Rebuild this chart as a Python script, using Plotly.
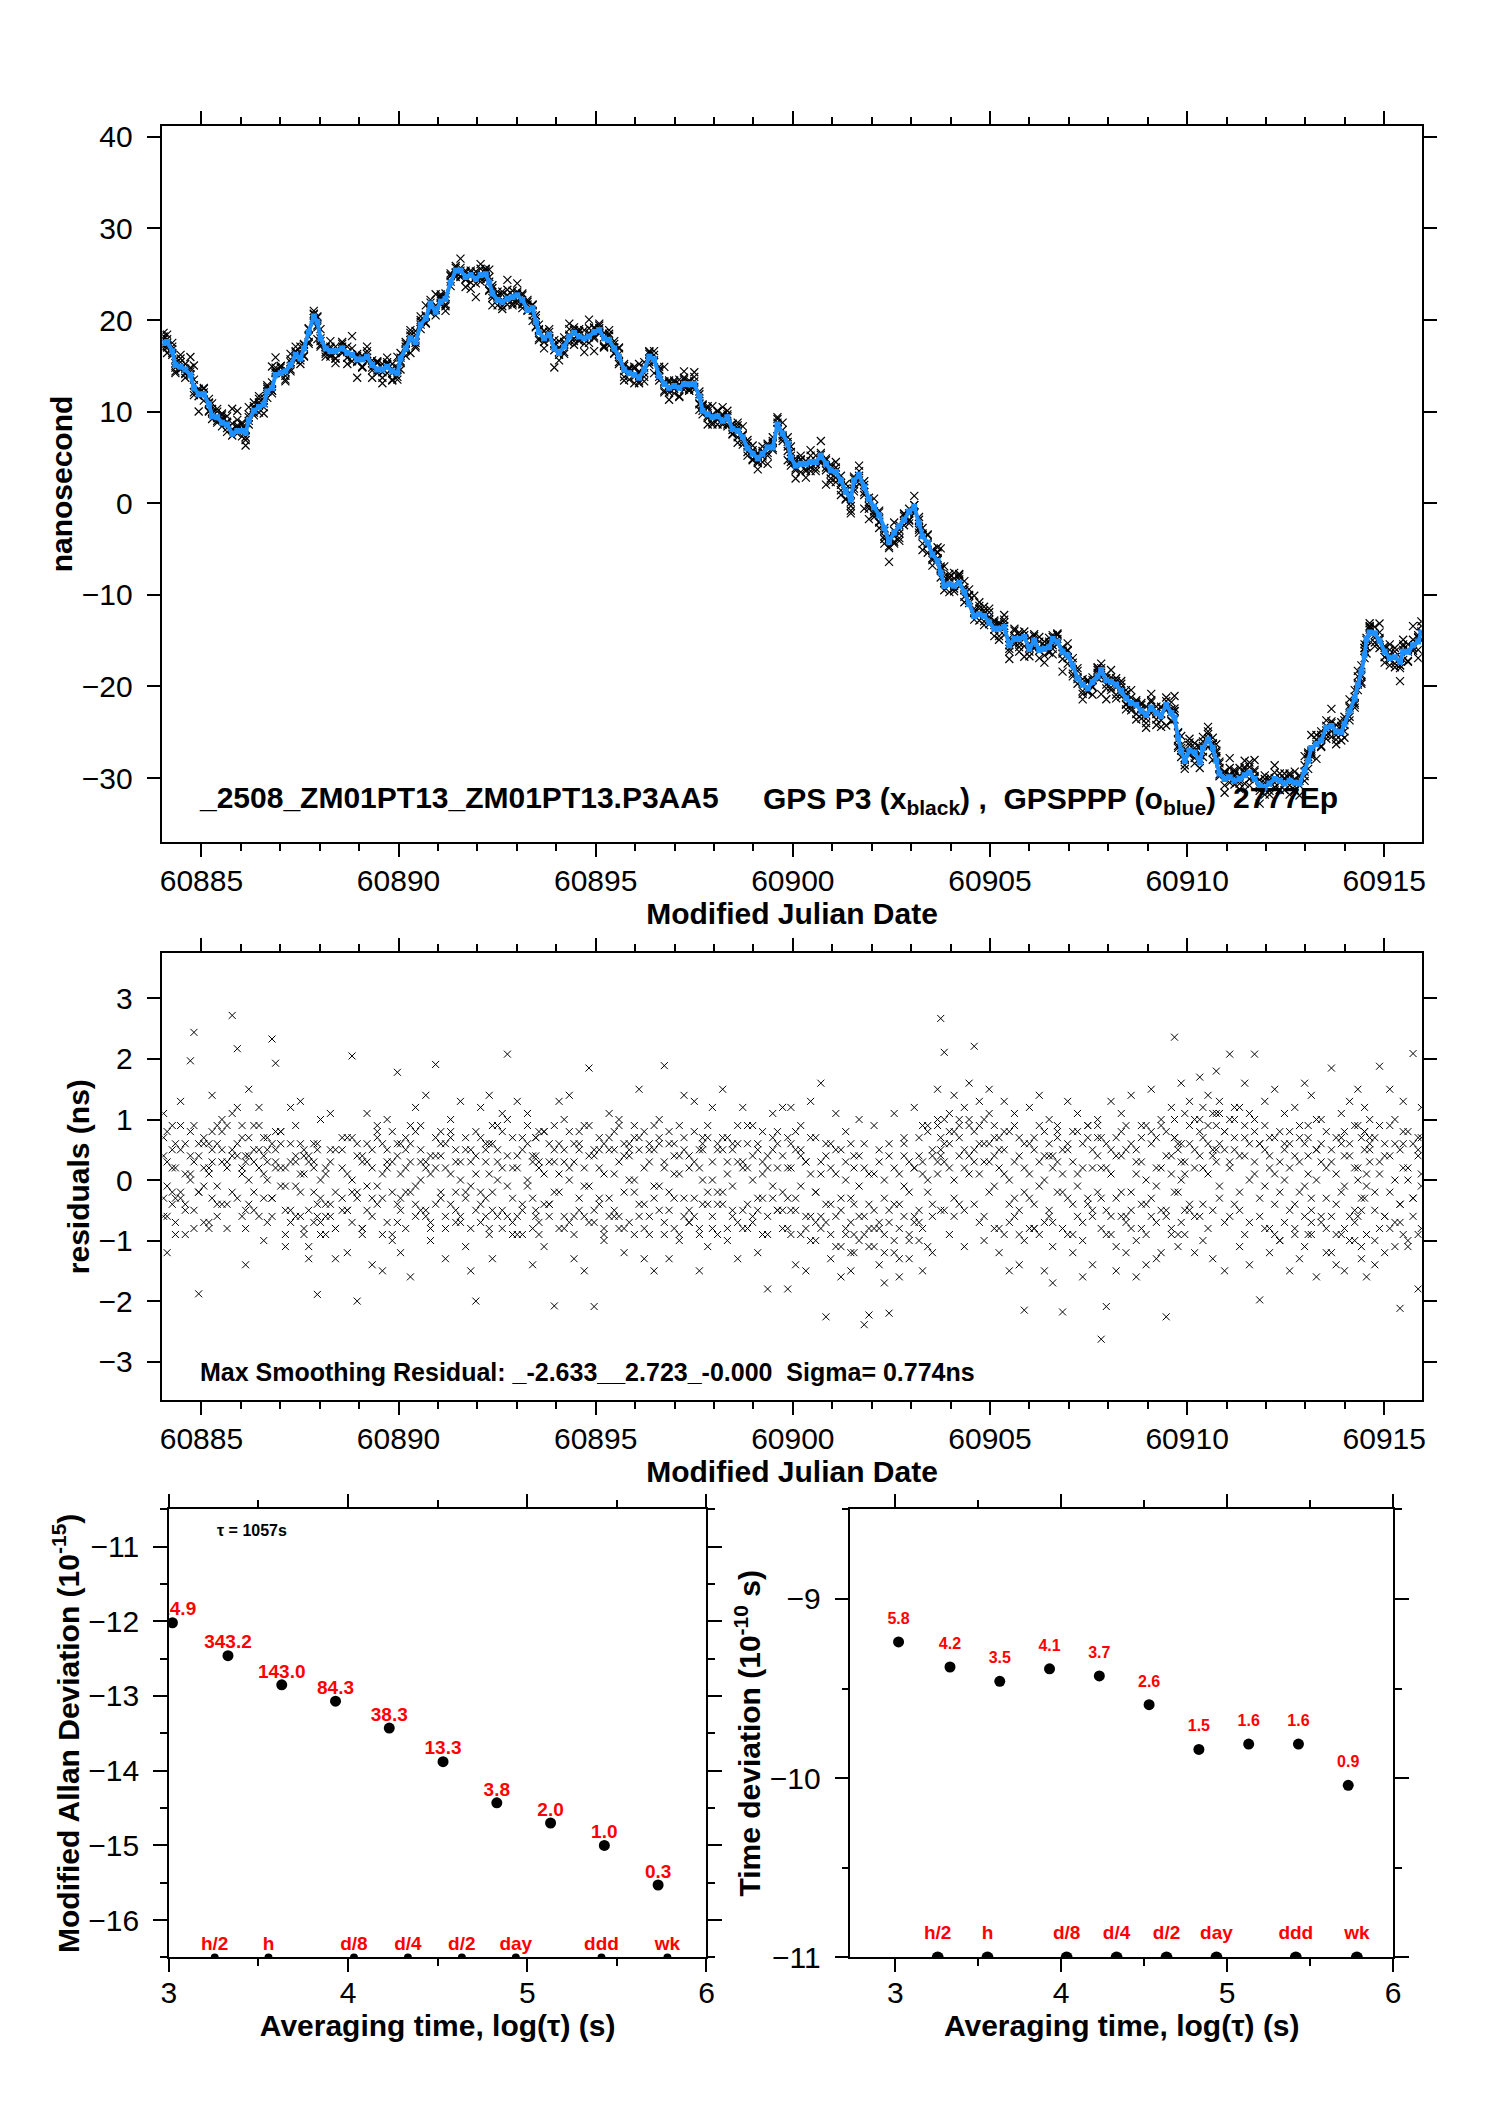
import plotly.graph_objects as go

FONT = "Liberation Sans, Arial, Helvetica, sans-serif"

# ---------------- top panel: smoothed GPSPPP curve -------------
ppp_mjd = [
    60884.04, 60884.13, 60884.26, 60884.34, 60884.47, 60884.59, 60884.72, 60884.81, 60884.93, 60885.06,
    60885.19, 60885.27, 60885.40, 60885.52, 60885.65, 60885.78, 60885.91, 60886.03, 60886.12, 60886.20,
    60886.33, 60886.46, 60886.58, 60886.67, 60886.79, 60886.88, 60887.01, 60887.13, 60887.26, 60887.39,
    60887.51, 60887.60, 60887.72, 60887.85, 60887.94, 60888.02, 60888.15, 60888.27, 60888.40, 60888.57,
    60888.70, 60888.82, 60888.95, 60889.08, 60889.20, 60889.33, 60889.46, 60889.59, 60889.71, 60889.84,
    60889.97, 60890.05, 60890.18, 60890.30, 60890.43, 60890.56, 60890.69, 60890.81, 60890.94, 60891.07,
    60891.19, 60891.32, 60891.45, 60891.57, 60891.70, 60891.83,
    60891.96, 60892.08, 60892.21, 60892.30, 60892.38, 60892.51, 60892.63, 60892.76, 60892.89, 60893.01,
    60893.14, 60893.27, 60893.40, 60893.48, 60893.56, 60893.69, 60893.82, 60893.95, 60894.07, 60894.20,
    60894.33, 60894.45, 60894.58, 60894.71, 60894.83, 60894.96, 60895.09, 60895.21, 60895.34, 60895.47,
    60895.59, 60895.72, 60895.85, 60895.98, 60896.10, 60896.23, 60896.36, 60896.48, 60896.61, 60896.74,
    60896.86, 60896.99, 60897.12, 60897.24, 60897.37, 60897.50, 60897.63, 60897.71, 60897.84, 60897.96,
    60898.09, 60898.22, 60898.34, 60898.47, 60898.60, 60898.73, 60898.85, 60898.98, 60899.11, 60899.23,
    60899.36, 60899.49, 60899.61, 60899.74,
    60899.87, 60899.95, 60900.07, 60900.20, 60900.33, 60900.45, 60900.58, 60900.71, 60900.84, 60900.96,
    60901.09, 60901.22, 60901.34, 60901.47, 60901.55, 60901.68, 60901.81, 60901.93, 60902.06, 60902.19,
    60902.32, 60902.44, 60902.57, 60902.70, 60902.82, 60902.95, 60903.08, 60903.20, 60903.29, 60903.42,
    60903.54, 60903.67, 60903.75, 60903.84, 60903.97, 60904.09, 60904.22, 60904.35, 60904.47, 60904.60,
    60904.73, 60904.85, 60904.98, 60905.11, 60905.23, 60905.36, 60905.49, 60905.62, 60905.74, 60905.87,
    60906.00, 60906.12, 60906.25, 60906.38, 60906.50, 60906.59, 60906.71, 60906.84, 60906.97, 60907.10,
    60907.22, 60907.35, 60907.48, 60907.60, 60907.73,
    60907.82, 60907.95, 60908.07, 60908.20, 60908.33, 60908.45, 60908.58, 60908.71, 60908.84, 60908.96,
    60909.09, 60909.22, 60909.34, 60909.47, 60909.60, 60909.68, 60909.77, 60909.85, 60909.94, 60910.06,
    60910.19, 60910.32, 60910.40, 60910.53, 60910.65, 60910.74, 60910.82, 60910.95, 60911.08, 60911.20,
    60911.33, 60911.46, 60911.58, 60911.71, 60911.84, 60911.97, 60912.09, 60912.22, 60912.35, 60912.47,
    60912.60, 60912.73, 60912.85, 60912.98, 60913.07, 60913.15, 60913.28, 60913.40, 60913.53, 60913.66,
    60913.78, 60913.91, 60913.99, 60914.12, 60914.25, 60914.33, 60914.42, 60914.50, 60914.55, 60914.63,
    60914.76, 60914.88, 60915.01, 60915.14, 60915.27, 60915.40, 60915.48, 60915.60, 60915.73, 60915.86,
    60915.94,
]

ppp_ns = [
    17.5, 17.6, 16.6, 15.1, 14.9, 14.6, 14.0, 12.6, 11.9, 11.9,
    10.8, 9.5, 9.4, 8.8, 8.6, 7.6, 7.9, 7.9, 7.7, 9.0,
    10.1, 10.5, 10.8, 12.2, 12.6, 14.0, 14.2, 14.4, 15.1, 16.2,
    15.8, 16.9, 18.7, 20.4, 19.8, 18.0, 16.9, 16.6, 16.6, 16.9,
    16.4, 16.2, 15.7, 15.7, 16.0, 15.1, 14.6, 14.6, 14.9, 14.4,
    14.2, 15.8, 16.9, 18.0, 17.6, 19.5, 20.2, 21.8, 20.9, 22.0,
    22.3, 24.1, 25.4, 25.4, 24.7, 24.9,
    24.5, 24.9, 25.0, 24.1, 22.9, 22.2, 22.0, 22.3, 22.5, 22.7,
    22.2, 21.1, 21.3, 19.8, 18.7, 18.0, 18.4, 16.9, 16.4, 17.1,
    18.2, 18.6, 18.2, 18.0, 18.2, 18.7, 18.9, 18.0, 17.8, 16.9,
    16.0, 14.6, 14.2, 14.0, 13.7, 14.6, 16.0, 15.7, 13.9, 13.0,
    12.6, 12.8, 12.6, 13.0, 13.0, 13.0, 11.7, 10.1, 9.7, 9.4,
    9.5, 9.0, 9.4, 8.1, 7.9, 7.2, 6.0, 5.4, 4.9, 5.4,
    6.1, 6.1, 8.6, 7.6,
    6.5, 5.0, 4.1, 4.3, 4.3, 4.5, 4.5, 5.2, 4.3, 3.6,
    3.4, 2.5, 1.3, 0.4, 2.5, 3.1, 1.8, 0.5, -0.4, -1.3,
    -2.7, -4.2, -3.2, -2.5, -1.8, -0.9, -0.4, -2.2, -3.6, -4.3,
    -5.6, -6.3, -7.6, -9.0, -8.8, -9.0, -8.7, -9.7, -11.0, -12.3,
    -12.1, -12.3, -13.0, -13.7, -13.7, -13.5, -15.5, -14.8, -14.8, -14.6,
    -15.9, -15.0, -16.0, -15.9, -15.7, -14.8, -15.1, -16.2, -16.6, -17.7,
    -19.1, -19.8, -20.2, -19.5, -18.9,
    -18.2, -19.3, -19.5, -19.8, -20.5, -21.3, -21.8, -22.0, -22.7, -23.1,
    -22.3, -22.9, -23.2, -22.0, -22.9, -23.4, -25.6, -27.0, -28.1, -27.0,
    -27.2, -28.3, -26.7, -25.8, -26.7, -28.1, -29.5, -30.1, -29.9, -30.3,
    -30.1, -29.7, -29.4, -30.1, -30.8, -31.0, -30.6, -30.1, -30.3, -30.6,
    -30.3, -30.5, -30.6, -29.2, -28.1, -26.7, -26.3, -25.9, -24.5, -24.3,
    -24.9, -25.0, -24.1, -22.7, -21.3, -19.8, -18.4, -16.6, -14.8, -14.1,
    -14.2, -15.0, -16.2, -16.9, -16.8, -17.3, -16.2, -16.2, -15.5, -15.1,
    -14.1,
]

# ---------------- residuals of GPS P3 against the smoothed curve (ns) --------------
res_a = [
    0.7, 0.3, -0.4, 0.6, -0.2, 0.1, 0.8, -0.5, 0.4, 0.2,
    0.6, -0.3, 0.9, 0.5, 0.2, 1.1, 0.4, -0.6, 0.3, 0.7,
    -0.2, 0.5, 0.1, -0.7, 0.6, 0.3, -0.1, 0.2, -0.5, 0.4,
    0.1, -0.8, 0.3, 0.6, -0.4, 0.0, 0.2, -0.6, 0.5, -0.3,
    0.1, 0.7, -0.2, 0.4, -0.5, 0.2, -0.1, 0.6, -0.7, 0.3,
    -0.4, 0.1, 0.5, -0.2, 0.8, 0.0, -0.6, 0.4, 0.2, -0.3,
    0.6, 0.1, -0.5, 0.3, 0.7, -0.1,
    0.4, -0.2, 0.6, 0.1, -0.5, 0.3, 0.8, -0.1, 0.2, -0.6,
    0.5, 0.0, -0.3, 0.7, 0.2, -0.4, 0.6, -0.2, 0.1, 0.5,
    -0.7, 0.3, 0.8, -0.1, 0.4, -0.5, 0.2, 0.6, -0.3, 0.1,
    -0.6, 0.4, 0.0, -0.2, 0.7, -0.4, 0.3, 0.5, -0.1, 0.2,
    -0.5, 0.6, 0.1, -0.3, 0.4, -0.6, 0.2, 0.7, -0.2, 0.0,
    0.5, -0.4, 0.3, -0.1, 0.6, -0.5, 0.2, 0.4, -0.3, 0.1,
    -0.6, 0.5, 0.2, -0.2,
    0.2, -0.5, -0.3, 0.4, -0.6, 0.1, -0.2, 0.3, -0.7, -0.4,
    0.1, -0.5, -0.8, -0.3, 0.2, -0.6, -0.9, -0.4, 0.1, -0.7,
    -0.3, -0.5, 0.2, -0.4, -0.1, 0.3, -0.6, 0.4, 0.1, -0.2,
    0.5, 0.3, 0.7, 0.6, 0.2, -0.3, 0.4, 0.5, 0.1, 0.8,
    0.6, 0.3, -0.2, 0.4, 0.7, 0.1, -0.4, 0.3, -0.5, 0.2,
    -0.3, 0.5, -0.1, 0.4, -0.6, 0.2, 0.3, -0.2, 0.5, -0.4,
    0.1, 0.6, -0.3, 0.2, 0.4,
    -0.3, 0.2, -0.6, 0.4, -0.2, 0.5, -0.5, 0.1, 0.3, -0.4,
    0.6, -0.1, 0.2, -0.5, 0.4, 0.7, -0.2, 0.3, 0.1, -0.4,
    0.5, 0.8, 0.2, 0.6, 0.4, 0.9, -0.1, 0.5, 0.3, 0.7,
    -0.2, 0.4, 0.6, 0.1, -0.3, 0.5, 0.2, -0.4, 0.3, 0.0,
    -0.5, 0.4, -0.2, 0.6, 0.1, -0.3, 0.5, -0.6, 0.2, 0.3,
    -0.4, 0.6, -0.1, 0.4, -0.5, 0.2, 0.7, -0.3, 0.1, 0.5,
    -0.2, 0.3, -0.6, 0.4, 0.0, -0.4, 0.6, 0.2, -0.3, 0.5,
    0.1,
]

res_b = [
    -0.3, -0.6, 0.2, -0.9, 0.5, -0.4, 0.1, 0.9, -0.2, -0.7,
    0.1, 0.8, -0.4, 0.3, -0.8, 0.4, 1.2, 0.2, -0.5, 0.0,
    0.9, -0.6, 0.4, 0.3, -0.3, 0.8, 0.6, -0.9, 0.3, -0.1,
    -0.6, 0.4, -1.1, 0.2, 0.5, -0.7, -0.4, 0.3, -0.8, 0.7,
    -0.5, -0.2, 0.6, -0.9, 0.3, -0.6, 0.8, -0.3, 0.2, -1.0,
    0.6, -0.5, -0.2, 0.9, -0.4, 0.5, 0.3, -0.8, 0.7, 0.4,
    -0.6, 0.8, 0.3, -0.7, -0.2, 0.5,
    -0.5, 0.7, -0.3, -0.8, 0.9, -0.6, 0.2, 1.0, -0.7, 0.4,
    -0.9, 0.6, 0.3, -0.5, -0.9, 0.8, -0.4, 0.3, -0.8, 1.0,
    0.2, -0.6, -0.3, 0.9, -0.7, 0.5, -0.4, -0.8, 0.7, 0.5,
    0.9, -0.8, 0.5, 0.7, -0.6, 0.8, -0.9, -0.3, 0.6, -0.7,
    0.8, -0.3, -0.9, 0.7, -0.5, 0.3, -0.8, -0.4, 0.9, -0.6,
    -0.2, 0.7, -0.8, 0.5, -0.7, 0.3, 0.9, -0.6, 0.5, -0.9,
    0.4, -0.3, 0.8, -0.5,
    -0.8, 0.6, 0.5, -0.9, 0.3, -1.0, 0.7, -0.8, 0.4, 0.6,
    -1.1, 0.5, 0.3, -1.2, -0.9, 0.4, 0.2, -1.1, -0.8, 0.3,
    -1.2, 0.6, -1.0, -1.3, 0.4, -0.9, 0.2, -0.7, 0.9, -1.1,
    -0.6, 1.0, 0.4, -0.5, 1.1, 0.8, -0.4, 1.2, 0.9, 0.3,
    -0.7, 1.0, 0.6, -0.8, 0.5, -0.9, 0.8, -0.6, 0.7, -1.0,
    0.6, -0.8, 0.9, -0.7, 0.4, -1.1, 0.7, 0.5, -0.9, 0.8,
    -0.6, -1.0, 0.7, -0.5, 0.9,
    0.7, -0.9, 0.5, -1.1, 0.8, -0.7, 0.6, -1.0, -0.8, 0.9,
    -0.6, 0.7, -1.2, 0.8, -0.9, 1.0, 0.6, -0.7, 1.1, -0.5,
    1.0, -0.6, 1.2, -0.8, 1.1, 0.5, 1.3, -0.7, 1.0, -0.4,
    1.2, -0.9, 1.1, 0.8, -0.6, 0.9, -0.8, 0.7, -1.0, 0.6,
    0.8, -0.9, 0.7, -1.1, 0.9, -0.7, 1.0, 0.6, -0.8, -1.2,
    0.7, -0.9, 0.8, -1.0, 0.9, -0.6, -1.1, 0.8, -0.9, 0.7,
    -1.0, 0.9, 0.6, -0.8, 1.0, -0.7, 0.8, -1.1, 0.6, -0.9,
    0.7,
]

res_c = [
    1.1, -1.2, 0.9, -0.3, 1.3, -0.9, 1.97, 2.44, -1.88, 0.6,
    -0.8, 1.4, -0.6, 1.0, -0.4, 2.72, 2.17, 0.9, -1.4, 1.5,
    0.3, 1.2, -1.0, 0.7, 2.33, 1.93, 0.8, -1.1, 1.2, -0.6,
    1.3, 0.5, -1.3, -0.7, -1.89, 1.0, -0.9, 1.1, -1.3, 0.5,
    -1.2, 2.05, -2.0, -0.8, 1.1, -1.4, 0.9, -1.5, 1.0, -0.9,
    1.78, -1.2, 0.7, -1.6, 1.2, -0.5, 1.4, -1.0, 1.91, 0.8,
    -1.3, 1.0, -0.7, 1.3, -1.1, -1.5,
    -2.0, 1.2, -0.6, 1.4, -1.3, 0.5, 1.1, 2.08, -0.9, 1.3,
    -0.4, 1.1, -1.4, 0.7, 0.8, -1.1, 0.3, -2.08, 1.3, -0.6,
    1.4, -1.3, 0.5, -1.5, 1.85, -2.09, 0.7, -1.0, 1.1, -0.5,
    1.0, -1.2, 0.4, -0.9, 1.5, -1.3, 0.6, -1.5, 1.0, 1.89,
    -1.3, 0.4, -1.0, 1.4, -0.7, 1.3, -1.5, 0.5, -1.1, 1.2,
    -0.4, 1.5, -1.0, 0.6, -1.3, 1.2, -0.8, 0.9, -1.2, 0.3,
    -1.8, 1.1, -0.5, 1.2,
    -1.8, 1.2, -1.4, 0.9, -1.5, 1.3, -0.7, 1.6, -2.26, -1.3,
    1.1, -1.6, 0.8, -1.5, -1.2, 1.0, -2.39, -2.23, 0.9, -1.4,
    -1.7, -2.2, 1.1, -1.6, 0.7, -1.3, 1.2, -1.0, -1.5, 0.8,
    -1.2, 1.5, 2.67, 2.11, -0.9, 1.4, 1.0, -1.1, 1.6, 2.21,
    1.3, -1.0, 1.5, 0.9, -1.2, 1.3, -1.5, 1.1, -1.4, -2.15,
    1.2, -0.8, 1.4, -1.5, 1.0, -1.7, 0.8, -2.18, 1.3, -1.2,
    1.1, -1.6, 0.9, -1.4, 1.0,
    -2.63, -2.09, 1.3, -1.5, 1.1, -1.2, 1.4, -1.6, 0.9, -1.4,
    1.5, -1.3, 1.0, -2.26, 1.2, 2.36, -1.1, 1.6, -0.9, 1.3,
    -1.2, 1.7, -1.0, 1.4, -1.3, 1.8, 1.1, -1.5, 2.08, 1.2,
    -1.1, 1.6, -1.4, 2.08, -1.98, 1.3, -1.2, 1.5, -1.0, 1.1,
    -1.5, 1.2, -1.3, 1.6, -0.9, 1.4, -1.6, 1.0, -1.2, 1.85,
    -1.4, 1.1, -1.5, 1.3, -1.0, 1.5, -1.3, 1.2, -1.6, 1.0,
    -1.4, 1.88, -1.2, 1.5, -1.1, -2.12, 1.3, -1.0, 2.09, -1.8,
    1.2,
]

res_d = [
    0.4, -0.1, 0.5, 0.2, -0.3, 0.6, 0.0, 0.3, -0.2, 0.7,
    0.2, 0.5, -0.1, 0.8, 0.3, -0.2, 0.6, 0.1, 0.4, -0.4,
    0.5, 0.2, 0.7, 0.0, -0.3, 0.5, 0.2, -0.1, 0.6, 0.3,
    -0.2, 0.1, -0.5, 0.3, -0.6, -0.3, 0.1, -0.4, -0.2, 0.2,
    -0.5, 0.0, -0.3, 0.3, -0.1, 0.5, -0.4, 0.1, 0.3, -0.2,
    0.4, -0.3, 0.2, 0.6, -0.1, 0.3, -0.5, 0.1, 0.4, -0.2,
    0.2, -0.4, 0.5, 0.0, -0.3, 0.3,
    0.1, -0.4, 0.3, 0.6, -0.2, 0.0, -0.5, 0.4, -0.3, 0.2,
    0.7, -0.1, 0.4, -0.6, 0.3, 0.1, -0.4, 0.5, -0.2, 0.3,
    0.0, 0.6, -0.5, 0.2, -0.1, 0.4, -0.3, 0.1, 0.5, -0.6,
    0.3, -0.2, 0.6, 0.0, -0.4, 0.2, 0.5, -0.1, -0.5, 0.3,
    -0.2, 0.1, 0.4, -0.6, 0.2, -0.3, 0.5, 0.0, -0.4, 0.3,
    0.6, -0.2, 0.1, -0.5, 0.3, 0.2, -0.4, 0.0, 0.6, -0.3,
    0.2, -0.1, -0.5, 0.4,
    -0.3, 0.2, -0.5, -0.1, 0.3, -0.6, -0.2, 0.1, -0.4, 0.2,
    -0.6, -0.3, 0.0, -0.7, -0.4, -0.1, -0.6, 0.1, -0.5, -0.8,
    0.0, -0.7, -0.4, 0.1, -0.6, -0.2, 0.2, -0.5, 0.3, 0.0,
    0.4, 0.1, 0.5, 0.3, 0.6, 0.0, 0.7, 0.2, 0.4, 0.5,
    0.1, 0.6, 0.3, -0.1, 0.2, 0.5, 0.0, -0.3, 0.4, -0.2,
    0.1, -0.4, 0.3, 0.0, -0.5, 0.4, -0.2, 0.1, -0.3, 0.3,
    -0.1, 0.2, -0.4, 0.5, -0.2,
    0.2, -0.5, 0.1, -0.3, 0.4, -0.6, -0.2, 0.3, -0.4, 0.0,
    -0.3, 0.2, -0.5, 0.4, 0.1, -0.2, 0.5, 0.0, 0.3, 0.6,
    0.2, 0.4, 0.7, 0.1, 0.5, 0.3, 0.6, 0.8, 0.2, 0.5,
    0.4, 0.7, 0.0, 0.3, 0.6, -0.1, 0.4, 0.1, -0.2, 0.5,
    0.2, -0.4, 0.3, -0.1, 0.4, -0.5, 0.0, 0.3, -0.3, 0.5,
    0.1, -0.2, 0.4, -0.6, 0.2, 0.0, -0.3, 0.5, -0.1, 0.3,
    -0.5, 0.1, 0.4, -0.2, 0.6, -0.4, 0.2, 0.0, -0.3, 0.4,
    -0.1,
]

res_e = [
    -0.6, 0.8, -0.2, -0.7, 0.9, -0.5, 0.4, -0.8, 0.6, -0.1,
    -0.7, 0.3, 0.6, -0.4, 0.9, 0.5, -0.3, 0.7, -0.8, 0.4,
    -0.5, 0.9, -0.3, 0.5, -0.6, 0.2, 0.8, -0.5, -0.7, 0.9,
    0.6, -0.9, 0.4, -0.2, 0.6, -0.9, -0.6, 0.5, -0.8, -0.5,
    0.7, -0.7, 0.4, -0.8, 0.6, -0.3, 0.7, -0.9, 0.5, 0.8,
    -0.7, 0.6, -0.8, 0.3, -0.6, 0.9, 0.2, -0.7, -0.4, 0.6,
    -0.8, 0.7, -0.2, -0.6, 0.5, -0.8,
    0.8, -0.7, 0.5, -0.9, 0.6, 0.9, -0.8, -0.6, 0.7, -0.9,
    -0.5, 0.9, -0.8, 0.4, -0.7, 0.8, -0.6, 0.9, 0.6, -0.8,
    0.8, -0.9, 0.6, -0.6, 0.9, -0.7, 0.5, -0.9, -0.6, 0.8,
    -0.8, 0.6, -0.7, 0.9, 0.5, -0.8, -0.6, 0.9, 0.7, -0.9,
    0.6, -0.8, 0.9, 0.5, -0.7, 0.8, -0.9, 0.6, 0.7, -0.8,
    -0.9, 0.5, 0.7, -0.6, 0.9, -0.8, 0.6, -0.7, -0.5, 0.8,
    -0.9, 0.7, 0.6, -0.8,
    0.7, -0.9, 0.8, 0.5, -0.8, 0.7, -1.0, -0.6, 0.6, -0.9,
    0.5, -1.1, -0.9, 0.6, 0.4, -1.0, 0.6, -0.8, -1.1, 0.5,
    -0.9, 0.4, -1.2, -0.8, 0.6, -1.0, -0.7, 0.7, -0.8, 0.9,
    -0.4, 0.9, -0.5, 1.0, 0.8, -0.6, 0.9, -0.5, 1.0, -0.4,
    0.9, -0.6, 1.1, 0.7, -0.8, 0.8, -0.7, 0.9, -0.9, 0.6,
    -0.8, 0.7, -0.9, 0.8, 0.6, -0.7, 0.9, -0.8, 0.6, -0.9,
    0.8, -0.7, 0.9, -0.6, 0.7,
    -0.8, 0.6, -0.9, 0.7, -0.6, 0.9, -0.8, 0.5, 0.7, -0.9,
    0.8, -0.7, 0.9, -0.6, -0.8, 0.7, -0.9, 0.6, -0.5, 0.9,
    -0.6, 1.0, -0.4, 0.9, -0.5, 1.1, -0.3, 0.8, -0.6, 1.0,
    -0.5, 0.9, -0.7, 1.0, 0.6, -0.8, 0.7, -0.9, 0.8, -0.7,
    0.6, -0.8, 0.9, -0.6, 0.7, -0.9, 0.5, -0.7, 0.8, -0.6,
    -0.9, 0.7, -0.8, 0.6, -0.7, 0.9, -0.5, 0.8, -0.9, 0.6,
    0.7, -0.8, -0.6, 0.9, -0.7, 0.5, -0.9, 0.8, -0.6, 0.7,
    -0.8,
]

# ---------------- stability panels --------------------------------------------------
log_tau = [3.02, 3.33, 3.63, 3.93, 4.23, 4.53, 4.83, 5.13, 5.43, 5.73]
mdev_log = [-12.02, -12.46, -12.85, -13.07, -13.43, -13.88, -14.43, -14.70, -15.00, -15.53]
mdev_lbl = ["714.9", "343.2", "143.0", "84.3", "38.3", "13.3", "3.8", "2.0", "1.0", "0.3"]
tdev_log = [-9.24, -9.38, -9.46, -9.39, -9.43, -9.59, -9.84, -9.81, -9.81, -10.04]
tdev_lbl = ["5.8", "4.2", "3.5", "4.1", "3.7", "2.6", "1.5", "1.6", "1.6", "0.9"]

ref_log_tau = [3.256, 3.556, 4.033, 4.334, 4.635, 4.936, 5.414, 5.782]
ref_lbl = ["h/2", "h", "d/8", "d/4", "d/2", "day", "ddd", "wk"]

MJD_RANGE = [60884.01, 60915.95]
NS_RANGE = [-37.0, 41.2]
RES_RANGE = [-3.64, 3.75]
MDEV_RANGE = [-16.5, -10.5]
TDEV_RANGE = [-11.0, -8.5]

residual_sets = [res_a, res_b, res_c, res_d, res_e]
n = min([len(ppp_mjd), len(ppp_ns)] + [len(r) for r in residual_sets])
mjd = ppp_mjd[:n]
smooth = ppp_ns[:n]

fig = go.Figure()

# top panel: GPS P3 crosses (smoothed curve + residual), GPSPPP blue
for res in residual_sets:
    fig.add_trace(go.Scatter(
        x=mjd, y=[s + r for s, r in zip(smooth, res[:n])], mode="markers",
        marker=dict(symbol="x-thin", size=8, line=dict(color="black", width=1.2)),
        xaxis="x", yaxis="y", hoverinfo="skip"))
fig.add_trace(go.Scatter(
    x=mjd, y=smooth, mode="lines+markers",
    line=dict(color="#1E90FF", width=4),
    marker=dict(symbol="square", size=6, color="#1E90FF"),
    xaxis="x", yaxis="y", hoverinfo="skip"))

# residual panel
res_x, res_y = [], []
for res in residual_sets:
    res_x += mjd
    res_y += res[:n]
fig.add_trace(go.Scatter(
    x=res_x, y=res_y, mode="markers",
    marker=dict(symbol="x-thin", size=7, line=dict(color="black", width=1)),
    xaxis="x2", yaxis="y2", hoverinfo="skip"))

# MDEV panel
fig.add_trace(go.Scatter(
    x=log_tau, y=mdev_log, mode="markers",
    marker=dict(size=11, color="black"), xaxis="x3", yaxis="y3"))
fig.add_trace(go.Scatter(
    x=log_tau, y=mdev_log, mode="markers+text", text=mdev_lbl,
    textposition="top center", cliponaxis=True,
    textfont=dict(family=FONT, size=19, color="red", weight="bold"),
    marker=dict(size=2.4, color="rgba(0,0,0,0)"), xaxis="x3", yaxis="y3"))
fig.add_trace(go.Scatter(
    x=ref_log_tau, y=[MDEV_RANGE[0]] * len(ref_log_tau), mode="markers",
    cliponaxis=True, marker=dict(size=8, color="black"), xaxis="x3", yaxis="y3"))
fig.add_trace(go.Scatter(
    x=ref_log_tau, y=[MDEV_RANGE[0]] * len(ref_log_tau), mode="markers+text",
    text=ref_lbl, textposition="top center", cliponaxis=False,
    textfont=dict(family=FONT, size=19, color="red", weight="bold"),
    marker=dict(size=3.2, color="rgba(0,0,0,0)"), xaxis="x3", yaxis="y3"))

# TDEV panel
fig.add_trace(go.Scatter(
    x=log_tau, y=tdev_log, mode="markers",
    marker=dict(size=11, color="black"), xaxis="x4", yaxis="y4"))
fig.add_trace(go.Scatter(
    x=log_tau, y=tdev_log, mode="markers+text", text=tdev_lbl,
    textposition="top center", cliponaxis=True,
    textfont=dict(family=FONT, size=16, color="red", weight="bold"),
    marker=dict(size=21, color="rgba(0,0,0,0)"), xaxis="x4", yaxis="y4"))
fig.add_trace(go.Scatter(
    x=ref_log_tau, y=[TDEV_RANGE[0]] * len(ref_log_tau), mode="markers",
    cliponaxis=True, marker=dict(size=12, color="black"), xaxis="x4", yaxis="y4"))
fig.add_trace(go.Scatter(
    x=ref_log_tau, y=[TDEV_RANGE[0]] * len(ref_log_tau), mode="markers+text",
    text=ref_lbl, textposition="top center", cliponaxis=False,
    textfont=dict(family=FONT, size=19, color="red", weight="bold"),
    marker=dict(size=20, color="rgba(0,0,0,0)"), xaxis="x4", yaxis="y4"))

W, H = 1488, 2105
tickfont = dict(family=FONT, size=30, color="black")
titlefont = dict(family=FONT, size=30, color="black", weight="bold")


def ax(domain, rng, dtick, minor=None, title=None, standoff=0, ticklen=13,
       anchor=None, tlstand=0, fmt=None):
    d = dict(domain=domain, range=rng, dtick=dtick, tick0=0, showgrid=False,
             zeroline=False, showline=True, linecolor="black", linewidth=1.5,
             mirror="ticks", ticks="outside", ticklen=ticklen, tickwidth=2,
             tickcolor="black", tickfont=tickfont,
             ticklabelstandoff=tlstand, anchor=anchor)
    if fmt:
        d["tickformat"] = fmt
    if minor:
        d["minor"] = dict(dtick=minor, ticks="outside", ticklen=7, tickwidth=1.5,
                          tickcolor="black", showgrid=False)
    if title:
        d["title"] = dict(text=title, font=titlefont, standoff=standoff)
    return d


def px_x(p):
    return p / W


def px_y(p):
    return 1 - p / H


fig.update_layout(
    width=W, height=H, margin=dict(l=0, r=0, t=0, b=0),
    paper_bgcolor="white", plot_bgcolor="white", showlegend=False,
    font=dict(family=FONT, color="black"),
    xaxis=ax([px_x(148), px_x(1421)], MJD_RANGE, 5, minor=1,
             title="Modified Julian Date", anchor="y", standoff=0, tlstand=-2, fmt="d"),
    yaxis=ax([px_y(838), px_y(114)], NS_RANGE, 10, title="nanosecond",
             anchor="x", standoff=0, ticklen=14, tlstand=8),
    xaxis2=ax([px_x(148), px_x(1421)], MJD_RANGE, 5, minor=1,
              title="Modified Julian Date", anchor="y2", standoff=0, tlstand=-2, fmt="d"),
    yaxis2=ax([px_y(1402), px_y(950)], RES_RANGE, 1, title="residuals (ns)",
              anchor="x2", standoff=0, ticklen=14, tlstand=8),
    xaxis3=ax([px_x(154.5), px_x(698)], [3, 6], 1, minor=0.5,
              title="Averaging time, log(\u03c4) (s)", anchor="y3", standoff=0, tlstand=-5),
    yaxis3=ax([px_y(1965), px_y(1512)], MDEV_RANGE, 1, minor=0.5,
              title="Modified Allan Deviation (10<sup>-15</sup>)", anchor="x3",
              standoff=0, ticklen=14, tlstand=8),
    xaxis4=ax([px_x(843.5), px_x(1392)], [2.73, 6], 1, minor=0.5,
              title="Averaging time, log(\u03c4) (s)", anchor="y4", standoff=0, tlstand=-5),
    yaxis4=ax([px_y(1965), px_y(1512)], TDEV_RANGE, 1, minor=0.5,
              title="Time deviation (10<sup>-10</sup> s)", anchor="x4",
              standoff=0, ticklen=14, tlstand=8),
)

annot_font = dict(family=FONT, size=30, color="black", weight="bold")
fig.add_annotation(xref="paper", yref="paper", x=px_x(183), y=px_y(793),
                   xanchor="left", yanchor="middle", showarrow=False,
                   text="_2508_ZM01PT13_ZM01PT13.P3AA5", font=annot_font)
fig.add_annotation(xref="paper", yref="paper", x=px_x(753), y=px_y(796),
                   xanchor="left", yanchor="middle", showarrow=False,
                   text="GPS P3 (x<sub>black</sub>) ,\u00a0\u00a0GPSPPP (o<sub>blue</sub>)",
                   font=annot_font)
fig.add_annotation(xref="paper", yref="paper", x=px_x(1228), y=px_y(793),
                   xanchor="left", yanchor="middle", showarrow=False,
                   text="2777Ep", font=annot_font)
fig.add_annotation(xref="paper", yref="paper", x=px_x(184), y=px_y(1373),
                   xanchor="left", yanchor="middle", showarrow=False,
                   text="Max Smoothing Residual: _-2.633__2.723_-0.000\u00a0\u00a0Sigma= 0.774ns",
                   font=dict(family=FONT, size=25, color="black", weight="bold"))
fig.add_annotation(xref="paper", yref="paper", x=px_x(239), y=px_y(1534),
                   xanchor="center", yanchor="middle", showarrow=False,
                   text="\u03c4 = 1057s",
                   font=dict(family=FONT, size=16, color="black", weight="bold"))

fig.write_html("out.html")
